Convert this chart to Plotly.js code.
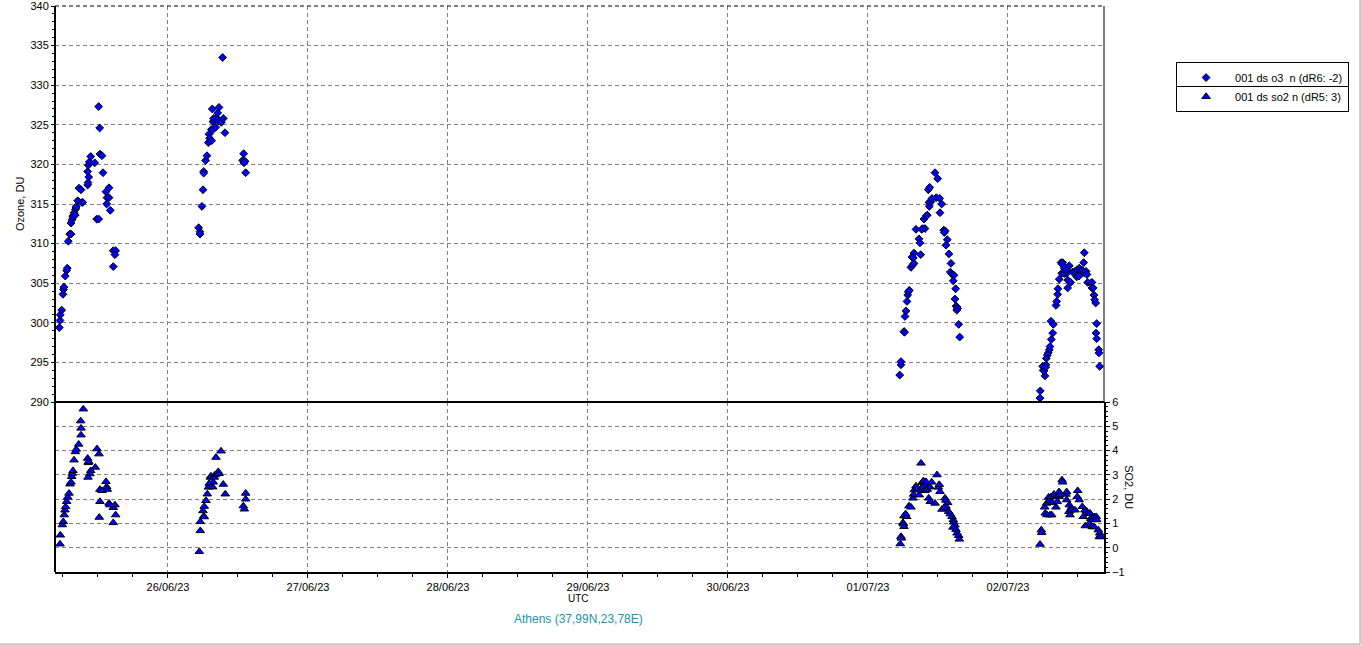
<!DOCTYPE html>
<html>
<head>
<meta charset="utf-8">
<script src="https://cdn.plot.ly/plotly-3.0.1.min.js"></script>
<style>
html,body{margin:0;padding:0;background:#fff;}
#chart{width:1361px;height:645px;}
</style>
</head>
<body>
<div id="chart"></div>
<script>
// Times are hours after 25/06/23 00:00 UTC
const o3Hours = [
  5.37,5.49,5.54,5.78,6.00,6.09,6.17,6.39,6.63,6.74,6.91,7.15,7.37,7.37,7.54,7.71,7.71,7.89,8.11,8.11,
  8.23,8.28,8.52,8.57,8.74,9.09,9.26,9.38,10.23,10.29,10.41,10.23,10.34,10.51,10.75,11.43,11.78,12.12,12.12,12.29,
  12.34,12.69,12.86,13.37,13.89,13.54,13.89,13.49,14.11,14.62,14.62,15.03,14.91,
  29.26,29.48,29.48,29.82,30.00,30.12,30.12,30.46,30.68,30.91,31.03,31.14,31.49,31.42,31.59,32.17,31.71,31.83,32.28,32.62,
  33.13,33.48,31.59,32.74,32.52,33.77,33.37,36.97,36.80,37.20,37.03,37.32,
  149.44,149.66,149.66,150.17,150.26,150.34,150.51,150.69,150.81,150.91,151.08,151.37,151.66,151.89,151.54,151.89,151.77,153.03,152.74,152.91,
  152.23,153.20,153.77,153.38,153.60,154.00,154.17,154.51,154.46,154.80,154.97,155.71,156.29,154.34,154.58,155.49,155.95,156.63,156.34,156.98,
  157.25,157.08,157.59,157.37,157.88,158.23,158.11,158.45,158.74,158.62,159.03,158.91,159.09,159.26,159.21,159.38,159.55,159.72,
  173.49,173.54,174.34,173.95,174.05,174.17,174.51,174.46,174.57,174.74,174.91,175.08,175.20,175.42,175.66,175.37,175.77,176.23,176.35,176.52,
  176.57,176.79,177.09,177.38,177.26,177.65,177.21,177.65,178.11,178.06,178.51,178.23,178.75,178.23,179.09,179.49,179.88,180.22,179.95,180.34,
  180.81,181.08,181.37,181.54,179.78,180.17,181.08,180.98,181.66,182.17,182.40,182.40,182.62,182.74,182.86,183.03,183.21,183.09,183.21,183.55,
  183.60,183.72
];
const o3Values = [
  299.4,300.3,301.0,301.6,303.6,304.2,304.5,305.9,306.6,306.9,310.3,311.2,311.2,312.6,313.0,313.5,313.4,313.9,314.3,313.6,
  314.5,314.7,315.4,315.4,317.0,316.8,315.2,315.2,317.4,317.7,318.4,319.1,319.9,320.3,321.0,320.2,313.1,313.1,327.3,324.6,
  321.3,321.1,318.95,316.55,317.05,315.8,315.8,315.0,314.2,307.1,309.1,309.1,308.6,
  312.0,311.5,311.2,314.7,316.8,319.1,318.9,320.5,321.1,322.75,323.8,323.3,323.0,324.4,324.3,324.7,325.4,325.8,325.9,325.5,
  325.3,325.8,327.0,327.2,326.5,324.0,333.5,321.35,320.5,320.4,320.2,318.95,
  293.4,294.7,295.1,298.9,298.8,300.8,301.5,302.7,303.5,303.9,304.1,307.0,307.3,307.5,308.3,308.8,308.2,308.6,310.6,310.1,
  311.8,311.8,311.9,311.9,313.1,313.5,313.6,314.7,315.2,315.3,315.7,315.8,315.7,316.8,317.1,318.95,318.2,315.0,313.9,311.7,
  311.6,311.4,310.5,309.8,308.7,307.5,306.4,306.1,306.0,305.3,304.3,303.0,302.1,302.0,301.6,301.8,299.8,298.2,
  290.5,291.4,293.3,294.5,294.0,293.9,294.7,294.4,295.5,295.9,296.2,296.6,297.0,297.9,298.7,300.2,299.8,302.2,302.7,303.6,
  304.3,305.5,307.6,307.6,307.4,306.9,306.25,306.2,306.3,306.7,307.2,305.4,305.1,304.4,306.4,306.5,306.7,306.9,306.1,306.5,
  306.6,306.3,306.5,306.1,305.8,305.9,308.85,307.6,305.1,305.0,305.1,304.4,304.4,303.5,302.9,302.5,299.9,298.7,298.0,296.6,
  296.2,294.5
];
const so2Hours = [
  5.49,5.54,5.88,6.05,6.22,6.34,6.46,6.63,6.81,7.03,7.20,7.37,7.49,7.59,7.71,7.89,8.11,8.28,8.69,9.09,
  9.09,9.03,9.48,10.23,10.34,10.41,11.83,12.17,11.54,10.75,10.63,10.29,13.37,13.49,12.34,12.69,13.59,12.34,12.22,13.89,
  14.06,14.62,14.91,15.03,14.62,
  29.37,29.54,29.54,30.00,30.12,30.22,30.22,30.51,30.74,30.91,31.08,31.25,31.37,31.66,31.77,31.94,32.06,32.35,32.62,32.74,
  32.23,33.09,33.48,33.82,36.91,37.08,37.32,37.32,
  149.54,149.66,149.71,150.00,150.05,150.17,150.17,150.63,150.46,151.03,151.37,151.71,151.83,151.94,152.23,152.52,152.79,153.09,153.26,153.48,
  153.72,153.94,153.03,153.37,153.77,154.17,154.63,154.92,154.41,154.68,155.49,155.83,156.05,156.34,156.22,156.69,157.20,157.37,157.66,157.37,
  157.08,157.83,158.11,158.40,158.62,158.69,158.91,158.57,159.09,159.26,159.55,159.65,
  173.49,173.71,173.78,174.29,174.39,174.69,175.20,175.49,174.63,174.97,175.15,175.37,175.89,175.66,176.23,176.45,176.74,176.91,177.26,177.38,
  176.74,176.86,177.94,178.06,178.06,178.51,178.46,178.85,178.63,178.80,179.49,179.95,179.88,180.22,180.74,181.20,181.49,180.91,181.77,181.25,
  182.06,182.18,182.45,182.79,183.13,181.94,182.45,182.79,183.21,183.48,183.72,183.65,183.94
];
const so2Values = [
  0.15,0.52,0.94,1.07,1.35,1.55,1.69,1.90,2.08,2.24,2.62,2.70,2.93,3.06,3.17,3.61,3.95,4.05,4.26,4.64,
  4.92,5.22,5.71,3.68,3.50,3.55,4.07,3.86,3.31,3.17,3.04,2.90,2.72,2.51,2.40,2.35,2.40,1.90,1.25,1.83,
  1.76,1.65,1.76,1.35,1.03,
  -0.16,0.70,1.07,1.52,1.30,1.70,1.27,1.94,2.21,2.49,2.65,2.90,2.95,2.50,2.70,2.90,3.00,3.04,3.13,3.05,
  3.72,3.98,2.61,2.21,1.72,1.59,2.24,2.00,
  0.16,0.46,0.39,1.03,0.98,0.87,1.31,1.28,1.39,1.72,1.67,2.04,2.20,2.38,2.54,2.45,2.17,3.48,2.68,2.75,
  2.63,2.72,2.38,2.50,2.35,2.40,2.50,2.70,2.04,1.90,1.83,3.00,2.49,2.31,2.60,1.58,2.04,1.95,1.85,1.70,
  1.65,1.49,1.39,1.28,1.15,1.05,0.93,0.84,0.75,0.60,0.50,0.35,
  0.14,0.73,0.62,1.67,1.42,1.35,1.35,1.35,1.83,2.08,1.95,2.10,2.20,1.86,1.67,1.90,2.10,2.25,2.79,2.70,
  2.30,2.17,2.20,2.30,1.97,1.76,1.49,1.65,1.35,1.55,1.55,2.35,2.10,1.97,1.69,1.55,1.50,1.28,1.40,0.90,
  1.42,1.20,1.15,1.27,1.28,1.00,0.86,0.86,1.15,0.73,0.60,0.45,0.45
];
const o3Name = "001 ds o3\u00a0 n (dR6: -2)";
const so2Name = "001 ds so2 n (dR5: 3)";
const xTickFormat = "%d/%m/%y";
const ozoneTitle = "Ozone, DU";
const so2Title = "SO2, DU";
const xTitle = "UTC";
const stationTitle = "Athens (37,99N,23,78E)";

const BASE = Date.UTC(2023, 5, 25, 0, 0, 0);
const H = 3600000;
const toTime = h => BASE + h * H;

const FONT = "Liberation Sans, Arial, sans-serif";
const split = 0.30035;
const DASH = "4px,3px";

const traces = [
  {
    type: "scatter", mode: "markers", name: o3Name,
    x: o3Hours.map(toTime), y: o3Values, xaxis: "x", yaxis: "y",
    marker: {symbol: "diamond", size: 6, color: "#0000ff", line: {color: "#000000", width: 1}}
  },
  {
    type: "scatter", mode: "markers", name: so2Name,
    x: so2Hours.map(toTime), y: so2Values, xaxis: "x", yaxis: "y2",
    marker: {symbol: "triangle-up", size: 7.5, color: "#0000ff", line: {color: "#000000", width: 1}}
  }
];

const gridStyle = {showgrid: true, gridcolor: "#808080", griddash: DASH, gridwidth: 1, zeroline: false};

const layout = {
  width: 1361, height: 645,
  margin: {l: 55, r: 257, t: 6, b: 73, pad: 0},
  paper_bgcolor: "#ffffff", plot_bgcolor: "#ffffff",
  font: {family: FONT, size: 11, color: "#000000"},
  showlegend: true,
  legend: {
    x: 1.0687, y: 0.901, xanchor: "left", yanchor: "top",
    bordercolor: "#000000", borderwidth: 1, bgcolor: "rgba(255,255,255,0)",
    font: {family: FONT, size: 11, color: "#000000"},
    tracegroupgap: 0, itemwidth: 48
  },
  xaxis: Object.assign({
    type: "date", anchor: "y2",
    range: [toTime(4.63), toTime(184.46)],
    tick0: toTime(24), dtick: 86400000, tickformat: xTickFormat,
    showline: true, linecolor: "#000000", linewidth: 2,
    ticks: "outside", ticklen: 4, tickcolor: "#000000",
    minor: {dtick: 6 * H, ticks: "outside", ticklen: 3, tickcolor: "#000000", showgrid: false},
    tickfont: {family: FONT, size: 11, color: "#000000"}
  }, gridStyle),
  yaxis: Object.assign({
    domain: [split, 1], anchor: "x", range: [290, 340], tick0: 290, dtick: 5,
    ticklabeloverflow: "allow",
    showline: false, ticks: "outside", ticklen: 3, tickcolor: "#000000",
    minor: {dtick: 1, ticks: "outside", ticklen: 2, tickcolor: "#000000", showgrid: false},
    tickfont: {family: FONT, size: 11, color: "#000000"}
  }, gridStyle),
  yaxis2: Object.assign({
    domain: [0, split], anchor: "x", side: "right", range: [-1, 6], tick0: 0, dtick: 1,
    ticklabeloverflow: "allow",
    showline: true, linecolor: "#000000", linewidth: 2,
    ticks: "outside", ticklen: 4, tickcolor: "#000000",
    minor: {dtick: 0.2, ticks: "outside", ticklen: 2, tickcolor: "#000000", showgrid: false},
    tickfont: {family: FONT, size: 11, color: "#000000"}
  }, gridStyle),
  shapes: [
    {type: "line", xref: "paper", yref: "paper", x0: 0, x1: 0, y0: 0, y1: 1, line: {color: "#000000", width: 2}},
    {type: "line", xref: "paper", yref: "paper", x0: 0, x1: 1, y0: split, y1: split, line: {color: "#000000", width: 2}},
    {type: "line", xref: "paper", yref: "paper", x0: 1, x1: 1, y0: split, y1: 1, line: {color: "#000000", width: 1}},
    {type: "line", xref: "paper", yref: "paper", x0: 0, x1: 1, y0: 1, y1: 1, line: {color: "#000000", width: 1, dash: DASH}},
    {type: "line", xref: "paper", yref: "paper", x0: 1.2441, x1: 1.2441, y0: -0.1272, y1: 1.0106, line: {color: "#a0a0a0", width: 1}},
    {type: "line", xref: "paper", yref: "paper", x0: -0.0524, x1: 1.2441, y0: -0.1272, y1: -0.1272, line: {color: "#a0a0a0", width: 1}},
    {type: "line", xref: "paper", yref: "paper", x0: 1.0687, x1: 1.2326, y0: 0.8578, y1: 0.8578, line: {color: "#000000", width: 1}}
  ],
  annotations: [
    {text: ozoneTitle, xref: "paper", yref: "paper", x: -0.0334, y: 0.650, textangle: -90, showarrow: false,
     xanchor: "center", yanchor: "middle", font: {family: FONT, size: 11, color: "#000000"}},
    {text: so2Title, xref: "paper", yref: "paper", x: 1.0238, y: 0.150, textangle: 90, showarrow: false,
     xanchor: "center", yanchor: "middle", font: {family: FONT, size: 11, color: "#000000"}},
    {text: xTitle, xref: "paper", yref: "paper", x: 0.4986, y: -0.0477, showarrow: false,
     xanchor: "center", yanchor: "middle", font: {family: FONT, size: 10, color: "#000000"}},
    {text: stationTitle, xref: "paper", yref: "paper", x: 0.4986, y: -0.0830, showarrow: false,
     xanchor: "center", yanchor: "middle", font: {family: FONT, size: 12, color: "#2196a8"}}
  ]
};

Plotly.newPlot("chart", traces, layout, {displayModeBar: false, staticPlot: true});
</script>
</body>
</html>
